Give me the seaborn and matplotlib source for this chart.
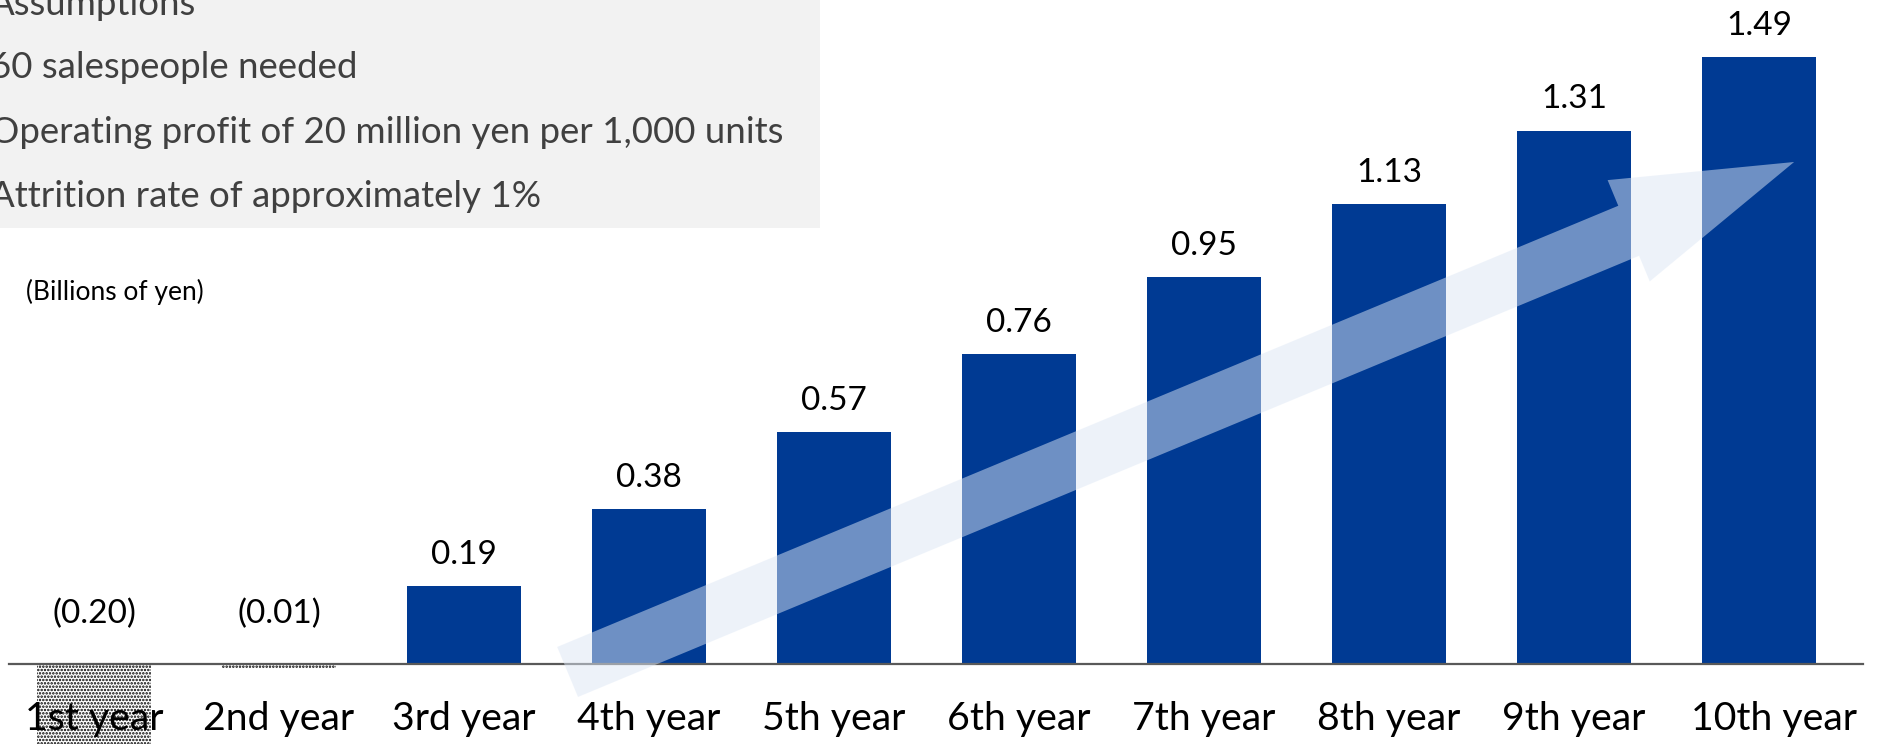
import matplotlib
matplotlib.use("Agg")
import matplotlib.pyplot as plt
import matplotlib.transforms as mtransforms
import pandas as pd
import seaborn as sns
from matplotlib.patches import Rectangle

# Operating profit by year (billions of yen)
years = ["1st year", "2nd year", "3rd year", "4th year", "5th year",
         "6th year", "7th year", "8th year", "9th year", "10th year"]
profit = [-0.20, -0.01, 0.19, 0.38, 0.57, 0.76, 0.95, 1.13, 1.31, 1.49]

assumptions = [
    "Assumptions",
    "60 salespeople needed",
    "Operating profit of 20 million yen per 1,000 units",
    "Attrition rate of approximately 1%",
]
unit_label = "(Billions of yen)"

BAR_BLUE = "#003A93"
BOX_GREY = "#F2F2F2"
TEXT_GREY = "#404040"

sns.set_theme(style="white")
plt.rcParams["font.family"] = ["Lato", "DejaVu Sans"]
plt.rcParams["hatch.linewidth"] = 1.2

W, H = 1877, 744
fig = plt.figure(figsize=(W / 100, H / 100), dpi=100)
ax = fig.add_axes([0, 0, 1, 1])

df = pd.DataFrame({"year": years, "profit": profit})
sns.barplot(data=df, x="year", y="profit", order=years, color=BAR_BLUE,
            saturation=1, width=0.62, linewidth=0, ax=ax)

# loss years get a dotted fill
for patch, v in zip(ax.patches, profit):
    if v < 0:
        patch.set_facecolor("white")
        patch.set_edgecolor("black")
        patch.set_linewidth(0)
        patch.set_hatch(".....")

ax.set_xlim(-0.508, 9.638)
ax.set_ylim(-0.197, 1.631)

# value labels
for i, v in enumerate(profit):
    if v >= 0:
        ax.annotate(f"{v:.2f}", (i, v), xytext=(0, 16), textcoords="offset points",
                    ha="center", va="baseline", fontsize=24, color="black")
    else:
        ax.annotate(f"({abs(v):.2f})", (i, 0), xytext=(0, 29.5),
                    textcoords="offset points", ha="center", va="baseline",
                    fontsize=24, color="black")

# axis styling: only a zero line with category labels below it
ax.set_xlabel("")
ax.set_ylabel("")
ax.set_yticks([])
for side in ("left", "right", "top"):
    ax.spines[side].set_visible(False)
ax.spines["bottom"].set_position(("data", 0))
ax.spines["bottom"].set_color("#595959")
ax.spines["bottom"].set_linewidth(1.6)
ax.spines["bottom"].set_bounds(-0.457, 9.56)
ax.set_axisbelow(False)
ax.tick_params(axis="x", length=0, pad=27, labelsize=28.3, labelcolor="black")

# the last category label sits a little to the right
last = ax.get_xticklabels()[-1]
last.set_transform(last.get_transform() +
                   mtransforms.ScaledTranslation(15 / 100, 0, fig.dpi_scale_trans))

# growth arrow
ax.annotate("", xy=(9.19, 1.233), xytext=(2.56, -0.02),
            arrowprops=dict(arrowstyle="simple,head_length=129,head_width=79,tail_width=39",
                            mutation_scale=1, shrinkA=0, shrinkB=0,
                            fc="#DDE7F5", ec="none", alpha=0.5),
            annotation_clip=False)

# assumptions box
ax.add_patch(Rectangle((0, 1 - 228 / H), 820 / W, 228 / H, transform=fig.transFigure,
                       facecolor=BOX_GREY, edgecolor="none", zorder=0.5, clip_on=False))
for line, base in zip(assumptions, [15, 78, 143, 207]):
    fig.text(-10 / W, 1 - base / H, line, ha="left", va="baseline",
             fontsize=26.4, color=TEXT_GREY)

fig.text(26 / W, 1 - 300 / H, unit_label, ha="left", va="baseline",
         fontsize=19, color="black")

fig.savefig("out.png", dpi=100)
